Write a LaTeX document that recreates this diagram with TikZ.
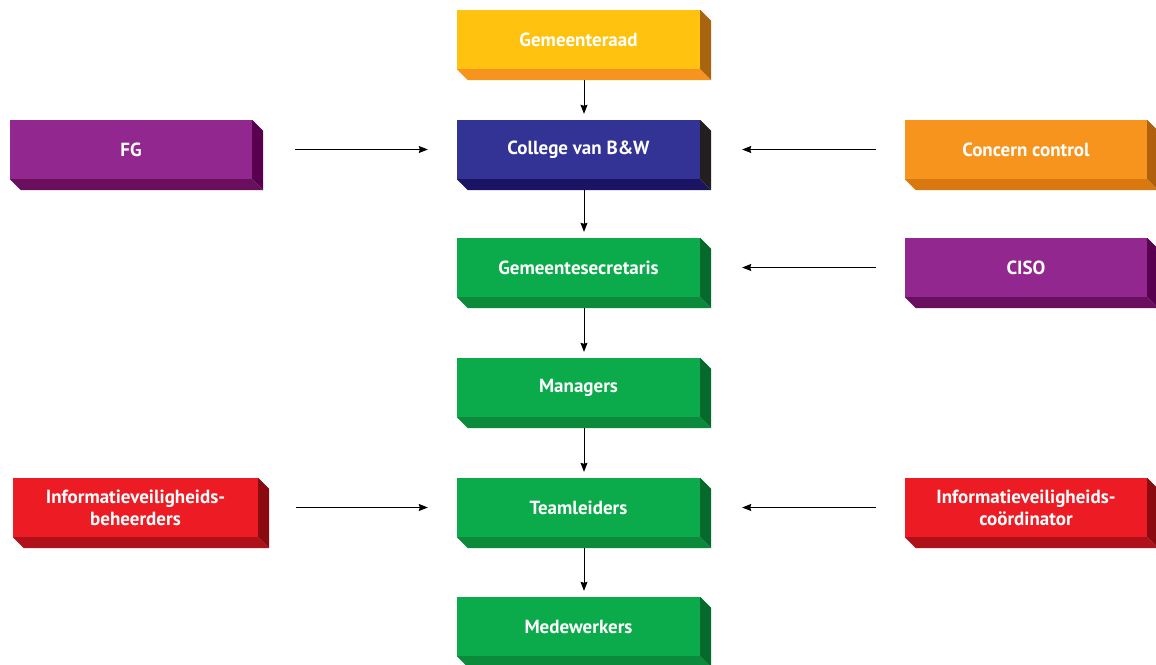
\documentclass[tikz,border=0pt]{standalone}
\usepackage{fontspec}
\setmainfont{PT Sans}
\usetikzlibrary{calc,arrows.meta}
\definecolor{yelF}{HTML}{FEC20F}\definecolor{yelB}{HTML}{F7941D}\definecolor{yelS}{HTML}{A8650F}
\definecolor{bluF}{HTML}{323395}\definecolor{bluB}{HTML}{1B1464}\definecolor{bluS}{HTML}{231F20}
\definecolor{grnF}{HTML}{0BAA4B}\definecolor{grnB}{HTML}{0A8A3A}\definecolor{grnS}{HTML}{066A2C}
\definecolor{purF}{HTML}{92278F}\definecolor{purB}{HTML}{6A0F5E}\definecolor{purS}{HTML}{58004F}
\definecolor{orgF}{HTML}{F7941D}\definecolor{orgB}{HTML}{D9780F}\definecolor{orgS}{HTML}{B0600C}
\definecolor{redF}{HTML}{ED1C24}\definecolor{redB}{HTML}{B0101A}\definecolor{redS}{HTML}{8A0A10}
\tikzset{
  facebox/.style={fill=#1, minimum height=59pt, inner sep=0pt, text=white,
    font=\bfseries\fontsize{19}{22}\selectfont, align=center},
  conn/.style={draw=black, line width=0.8pt, -{Stealth[length=9pt,width=7pt,inset=1pt]}},
}
\newcommand{\extrude}[3]{%
  \fill[#2] (#1.south west) -- ++(11,11) -- ($(#1.south east)+(11,11)$) -- (#1.south east) -- cycle;
  \fill[#3] (#1.north east) -- ++(11,11) -- ($(#1.south east)+(11,11)$) -- (#1.south east) -- cycle;}
\begin{document}
\begin{tikzpicture}[x=1pt,y=-1pt]
\useasboundingbox (0,0) rectangle (1156,664);
% central column
\node[facebox=yelF, minimum width=243pt] (raad) at (578.5,39.5) {Gemeenteraad};
\extrude{raad}{yelB}{yelS}
\node[facebox=bluF, minimum width=243pt] (college) at (578.5,149.5) {College van B\&W};
\extrude{college}{bluB}{bluS}
\node[facebox=grnF, minimum width=243pt] (secr) at (578.5,267.5) {Gemeentesecretaris};
\extrude{secr}{grnB}{grnS}
\node[facebox=grnF, minimum width=243pt] (man) at (578.5,387.5) {Managers};
\extrude{man}{grnB}{grnS}
\node[facebox=grnF, minimum width=243pt] (team) at (578.5,507.5) {Teamleiders};
\extrude{team}{grnB}{grnS}
\node[facebox=grnF, minimum width=243pt] (mw) at (578.5,626.5) {Medewerkers};
\extrude{mw}{grnB}{grnS}
% side boxes
\node[facebox=purF, minimum width=242pt] (fg) at (131,149.5) {FG};
\extrude{fg}{purB}{purS}
\node[facebox=orgF, minimum width=242pt] (cc) at (1026,149.5) {Concern control};
\extrude{cc}{orgB}{orgS}
\node[facebox=purF, minimum width=242pt] (ciso) at (1026,267.5) {CISO};
\extrude{ciso}{purB}{purS}
\node[facebox=redF, minimum width=245pt] (ivb) at (135.5,507.5) {Informatieveiligheids-\\beheerders};
\extrude{ivb}{redB}{redS}
\node[facebox=redF, minimum width=242pt] (ivc) at (1026,507.5) {Informatieveiligheids-\\coördinator};
\extrude{ivc}{redB}{redS}
% vertical connectors
\foreach \a/\b in {raad/college, college/secr, secr/man, man/team, team/mw}{
  \draw[conn, shorten >=6pt] ($(\a.south)+(5.5,11)$) -- ($(\b.north)+(5.5,0)$);
}
% horizontal connectors
\draw[conn, shorten <=32pt, shorten >=29pt] ($(fg.east)+(11,0)$) -- (college.west);
\draw[conn, shorten <=29pt, shorten >=31pt] (cc.west) -- ($(college.east)+(11,0)$);
\draw[conn, shorten <=29pt, shorten >=31pt] (ciso.west) -- ($(secr.east)+(11,0)$);
\draw[conn, shorten <=27pt, shorten >=29pt] ($(ivb.east)+(11,0)$) -- (team.west);
\draw[conn, shorten <=29pt, shorten >=31pt] (ivc.west) -- ($(team.east)+(11,0)$);
\end{tikzpicture}
\end{document}
